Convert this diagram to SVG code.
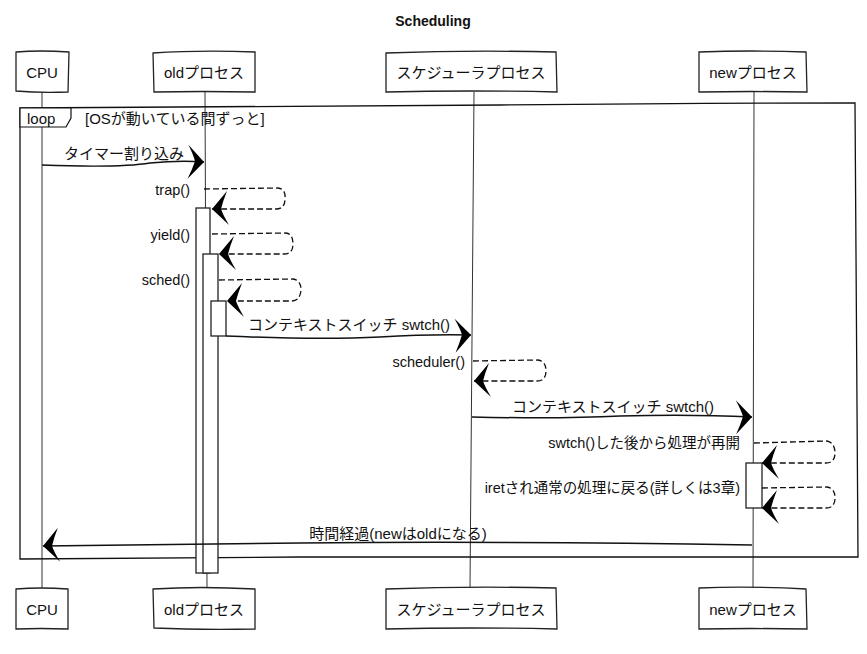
<svg xmlns="http://www.w3.org/2000/svg" width="867" height="654" viewBox="0 0 867 654">
<style>
  text { font-family: "Liberation Sans", "Noto Sans CJK JP", sans-serif; fill: #111; }
  .title { font-size: 14px; font-weight: bold; text-anchor: middle; }
  .actor { fill: #fff; stroke: #222; stroke-width: 1.3; }
  .actor-text { font-size: 15px; text-anchor: middle; dominant-baseline: central; }
  .life { fill: none; stroke: #333; stroke-width: 1; }
  .act { fill: #fff; stroke: #222; stroke-width: 1.3; }
  .msg { fill: none; stroke: #111; stroke-width: 1.5; marker-end: url(#arrow); }
  .self { fill: none; stroke: #111; stroke-width: 1.3; stroke-dasharray: 6 3; marker-end: url(#arrow); }
  .mtext { font-size: 15px; text-anchor: middle; }
  .stext { font-size: 14.5px; text-anchor: end; dominant-baseline: central; }
  .loop { fill: none; stroke: #111; stroke-width: 1.3; }
  .looptab { fill: #fff; stroke: #111; stroke-width: 1.2; }
  .looptext { font-size: 15px; dominant-baseline: central; }
</style>
<defs>
  <marker id="arrow" markerUnits="userSpaceOnUse" markerWidth="24" markerHeight="40" viewBox="-20 -20 24 40" refX="0" refY="0" orient="auto">
    <path d="M0,0 L-17,-16 Q-11,-6 -9,0 Q-11,8 -15,18 Z" fill="#000"/>
  </marker>
</defs>
<rect width="867" height="654" fill="#fff"/>
<text class="title" x="433" y="26">Scheduling</text>

<g id="lifelines">
  <path class="life" d="M42,92 L42,588"/>
  <path class="life" d="M205,92 L207,588"/>
  <path class="life" d="M474,92 L470,588"/>
  <path class="life" d="M754,92 L753,588"/>
</g>

<g id="loop">
  <path class="loop" d="M20,108 Q300,106 500,105 Q700,103 855,103 L858,557 Q600,556 300,557 Q150,558 20,559 Z"/>
  <path class="looptab" d="M20,108 L71,108 L71,118 L66,127 L20,127 Z"/>
  <text class="looptext" x="27" y="118">loop</text>
  <text class="looptext" x="85" y="118">[OSが動いている間ずっと]</text>
</g>

<g id="cpu">
  <path class="actor" d="M16,52 Q40,50 69,52 L68,92 Q40,93 16,91 Z"/>
  <text class="actor-text" x="42" y="72">CPU</text>
</g>
<g id="old">
  <path class="actor" d="M153,53 Q200,50 255,52 L255,92 Q200,91 154,92 Z"/>
  <text class="actor-text" x="204" y="72">oldプロセス</text>
  <rect class="act" x="196" y="208" width="14" height="365"/>
  <rect class="act" x="203" y="254" width="15" height="319"/>
  <rect class="act" x="211" y="301" width="15" height="35"/>
</g>
<g id="scheduler">
  <path class="actor" d="M386,53 Q470,50 556,52 L557,92 Q470,90 386,92 Z"/>
  <text class="actor-text" x="471" y="72">スケジューラプロセス</text>
</g>
<g id="new">
  <path class="actor" d="M699,52 Q750,50 806,52 L807,92 Q750,91 699,92 Z"/>
  <text class="actor-text" x="753" y="72">newプロセス</text>
  <rect class="act" x="746" y="463" width="16" height="45"/>
</g>

<g id="cpu-bottom">
  <path class="actor" d="M16,589 Q40,587 68,589 L68,629 Q40,628 16,629 Z"/>
  <text class="actor-text" x="42" y="609">CPU</text>
</g>
<g id="old-bottom">
  <path class="actor" d="M153,589 Q200,586 255,589 L255,629 Q200,630 154,628 Z"/>
  <text class="actor-text" x="204" y="609">oldプロセス</text>
</g>
<g id="scheduler-bottom">
  <path class="actor" d="M386,589 Q470,586 556,588 L557,629 Q470,627 386,629 Z"/>
  <text class="actor-text" x="471" y="609">スケジューラプロセス</text>
</g>
<g id="new-bottom">
  <path class="actor" d="M699,588 Q750,586 806,589 L807,629 Q750,628 699,629 Z"/>
  <text class="actor-text" x="753" y="609">newプロセス</text>
</g>

<g id="connectors">
  <path class="msg" d="M42,165 Q120,168 150,163 Q180,160 204,162"/>
  <text class="mtext" x="124" y="159">タイマー割り込み</text>

  <path class="self" d="M204,189 L278,188 Q286,189 285,199 Q285,209 276,209 L212,209"/>
  <text class="stext" x="190" y="190">trap()</text>

  <path class="self" d="M212,234 L286,233 Q293,234 293,244 Q293,254 284,254 L219,254"/>
  <text class="stext" x="190" y="235">yield()</text>

  <path class="self" d="M219,280 L293,279 Q301,280 301,290 Q300,301 292,301 L227,301"/>
  <text class="stext" x="190" y="280">sched()</text>

  <path class="msg" d="M226,336 Q320,340 380,337 Q430,334 471,335"/>
  <text class="mtext" x="349" y="330">コンテキストスイッチ swtch()</text>

  <path class="self" d="M473,361 L538,360 Q546,361 546,371 Q546,381 537,381 L474,381"/>
  <text class="stext" x="465" y="362">scheduler()</text>

  <path class="msg" d="M472,417 Q560,419 620,416 Q690,414 752,417"/>
  <text class="mtext" x="613" y="412">コンテキストスイッチ swtch()</text>

  <path class="self" d="M754,443 L827,441 Q835,443 835,453 Q835,463 826,463 L762,463"/>
  <text class="stext" x="740" y="443">swtch()した後から処理が再開</text>

  <path class="self" d="M762,488 L827,487 Q835,488 835,498 Q835,508 826,508 L762,508"/>
  <text class="stext" x="740" y="488">iretされ通常の処理に戻る(詳しくは3章)</text>

  <path class="msg" d="M752,545 Q500,541 300,543 Q150,545 43,546"/>
  <text class="mtext" x="398" y="539">時間経過(newはoldになる)</text>
</g>
</svg>
